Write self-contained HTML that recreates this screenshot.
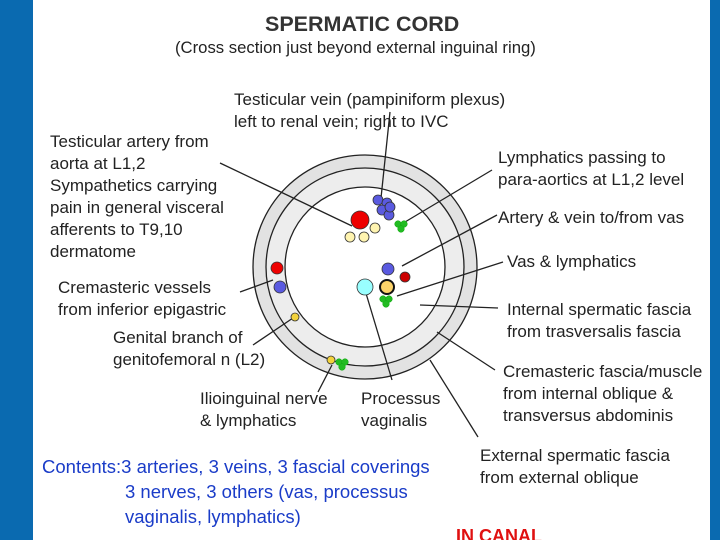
<!DOCTYPE html>
<html><head><meta charset="utf-8"><style>
html,body{margin:0;padding:0}
body{width:720px;height:540px;overflow:hidden;background:#0a6ab0;position:relative}
#p{position:absolute;left:33px;top:0;width:677px;height:540px;background:#fff}
svg{position:absolute;left:0;top:0}
text{font-family:"Liberation Sans",sans-serif;font-size:17px;fill:#222}
</style></head><body>
<div id="p"></div>
<svg width="720" height="540" viewBox="0 0 720 540">
<circle cx="365" cy="267" r="112" fill="#e2e2e2" stroke="#222" stroke-width="1.3"/>
<circle cx="365" cy="267" r="99" fill="#ededed" stroke="#222" stroke-width="1.3"/>
<circle cx="365" cy="267" r="80" fill="#fff" stroke="#222" stroke-width="1.3"/>
<g stroke="#222" stroke-width="1.3">
<line x1="390" y1="112" x2="381" y2="198"/>
<line x1="220" y1="163" x2="352" y2="226"/>
<line x1="492" y1="170" x2="405" y2="222"/>
<line x1="497" y1="215" x2="402" y2="266"/>
<line x1="503" y1="262" x2="397" y2="296"/>
<line x1="498" y1="308" x2="420" y2="305"/>
<line x1="495" y1="370" x2="437" y2="332"/>
<line x1="478" y1="437" x2="430" y2="360"/>
<line x1="240" y1="292" x2="273" y2="280"/>
<line x1="253" y1="345" x2="293" y2="318"/>
<line x1="318" y1="392" x2="332" y2="365"/>
<line x1="392" y1="380" x2="365" y2="290"/>
</g>
<g stroke="#333" stroke-width="0.8">
<circle cx="360" cy="220" r="9" fill="#e00"/>
<circle cx="350" cy="237" r="5" fill="#fff4b0"/>
<circle cx="364" cy="237" r="5" fill="#fff4b0"/>
<circle cx="375" cy="228" r="5" fill="#fff4b0"/>
<circle cx="378" cy="200" r="5" fill="#5a5ae0"/>
<circle cx="387" cy="203" r="5" fill="#5a5ae0"/>
<circle cx="382" cy="210" r="5" fill="#5a5ae0"/>
<circle cx="389" cy="215" r="5" fill="#5a5ae0"/>
<circle cx="390" cy="207" r="5" fill="#5a5ae0"/>
<circle cx="277" cy="268" r="6" fill="#e00"/>
<circle cx="280" cy="287" r="6" fill="#5a5ae0"/>
<circle cx="295" cy="317" r="4" fill="#f2d23c"/>
<circle cx="331" cy="360" r="4" fill="#f2d23c"/>
<circle cx="388" cy="269" r="6" fill="#5a5ae0"/>
<circle cx="405" cy="277" r="5" fill="#c00"/>
<circle cx="365" cy="287" r="8" fill="#9ff"/>
<circle cx="387" cy="287" r="7" fill="#fcd36a" stroke="#111" stroke-width="2"/>
</g>
<g fill="#2b2" stroke="#1a1" stroke-width="0.5">
<circle cx="398" cy="224" r="3.3"/><circle cx="404" cy="224" r="3.3"/><circle cx="401" cy="229" r="3.3"/>
<circle cx="339" cy="362" r="3.3"/><circle cx="345" cy="362" r="3.3"/><circle cx="342" cy="367" r="3.3"/>
<circle cx="383" cy="299" r="3.3"/><circle cx="389" cy="299" r="3.3"/><circle cx="386" cy="304" r="3.3"/>
</g>
<text x="265" y="31" style="font-size:21.5px;font-weight:bold;fill:#333">SPERMATIC CORD</text>
<text x="175" y="53" style="font-size:16.7px">(Cross section just beyond external inguinal ring)</text>
<text x="234" y="105">Testicular vein (pampiniform plexus)</text>
<text x="234" y="127">left to renal vein; right to IVC</text>
<text x="50" y="147">Testicular artery from</text>
<text x="50" y="169">aorta at L1,2</text>
<text x="50" y="191">Sympathetics carrying</text>
<text x="50" y="213">pain in general visceral</text>
<text x="50" y="235">afferents to T9,10</text>
<text x="50" y="257">dermatome</text>
<text x="58" y="293">Cremasteric vessels</text>
<text x="58" y="315">from inferior epigastric</text>
<text x="113" y="343">Genital branch of</text>
<text x="113" y="365">genitofemoral n (L2)</text>
<text x="200" y="404">Ilioinguinal nerve</text>
<text x="200" y="426">&amp; lymphatics</text>
<text x="361" y="404">Processus</text>
<text x="361" y="426">vaginalis</text>
<text x="498" y="163">Lymphatics passing to</text>
<text x="498" y="185">para-aortics at L1,2 level</text>
<text x="498" y="223">Artery &amp; vein to/from vas</text>
<text x="507" y="267">Vas &amp; lymphatics</text>
<text x="507" y="315">Internal spermatic fascia</text>
<text x="507" y="337">from trasversalis fascia</text>
<text x="503" y="377">Cremasteric fascia/muscle</text>
<text x="503" y="399">from internal oblique &amp;</text>
<text x="503" y="421">transversus abdominis</text>
<text x="480" y="461">External spermatic fascia</text>
<text x="480" y="483">from external oblique</text>
<text x="42" y="473" style="fill:#1a3cc8;font-size:18.5px">Contents:3 arteries, 3 veins, 3 fascial coverings</text>
<text x="125" y="498" style="fill:#1a3cc8;font-size:18.5px">3 nerves, 3 others (vas,  processus</text>
<text x="125" y="523" style="fill:#1a3cc8;font-size:18.5px">vaginalis, lymphatics)</text>
<text x="456" y="542" style="fill:#e01010;font-size:18px;font-weight:bold">IN CANAL</text>
</svg>
</body></html>
